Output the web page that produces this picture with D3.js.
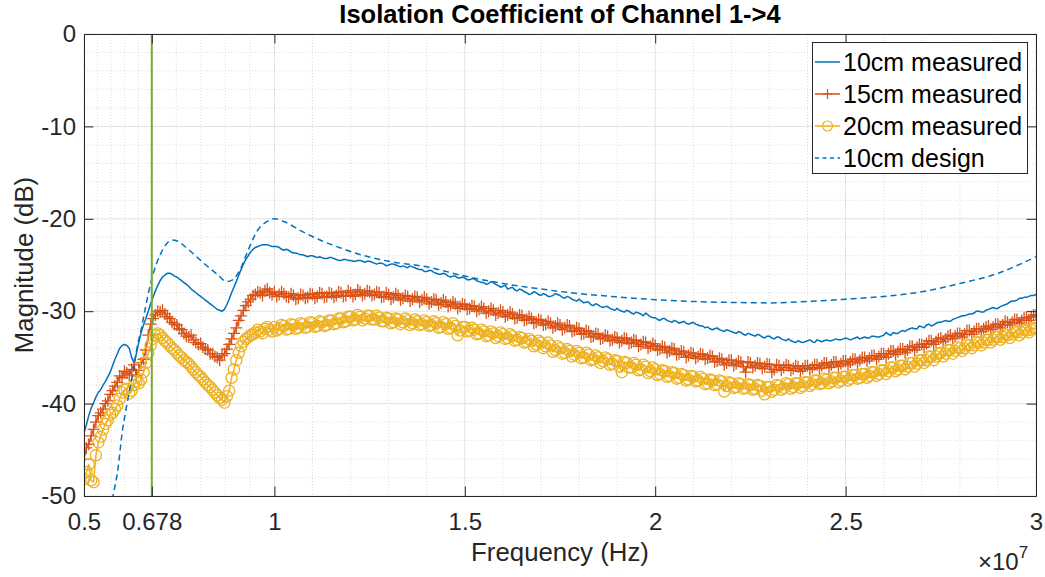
<!DOCTYPE html>
<html><head><meta charset="utf-8">
<script src="https://cdn.jsdelivr.net/npm/d3@7"></script>
<style>
body{margin:0;background:#fff;}
text{font-family:"Liberation Sans",Arial,Helvetica,sans-serif;}
</style>
</head><body>
<svg id="chart" width="1045" height="577"></svg>
<script>
// Frequency sweep (units of 1e7 Hz): 0.5 .. 3.0, 401 points
const sweepStart = 0.5, sweepStep = 0.00625, sweepCount = 401;

const measured10 = [
-43.2,-42.3,-41.3,-40.5,-39.9,-39.3,-38.8,-38.5,-38.0,-37.6,-37.1,-36.6,-35.9,-35.2,-34.6,-34.0,-33.7,-33.6,-33.7,-34.0,
-35.0,-35.6,-34.6,-33.4,-32.3,-31.5,-30.8,-30.0,-29.2,-28.5,-27.8,-27.2,-26.7,-26.3,-26.1,-25.9,-25.9,-26.0,-26.2,-26.3,
-26.5,-26.7,-26.9,-27.1,-27.3,-27.6,-27.8,-28.0,-28.2,-28.4,-28.6,-28.8,-29.0,-29.2,-29.4,-29.6,-29.8,-29.9,-30.0,-29.8,
-29.3,-28.7,-28.0,-27.4,-26.8,-26.1,-25.5,-24.9,-24.4,-24.0,-23.6,-23.3,-23.1,-23.0,-22.9,-22.8,-22.8,-22.8,-22.9,-23.0,
-23.0,-23.0,-23.1,-23.3,-23.4,-23.3,-23.4,-23.6,-23.7,-23.7,-23.8,-23.9,-23.9,-24.0,-24.1,-24.0,-24.0,-24.1,-24.2,-24.1,
-24.2,-24.3,-24.3,-24.2,-24.2,-24.3,-24.4,-24.5,-24.5,-24.4,-24.4,-24.5,-24.5,-24.6,-24.6,-24.5,-24.5,-24.6,-24.7,-24.6,
-24.6,-24.7,-24.8,-24.9,-24.8,-24.8,-24.9,-25.1,-25.0,-24.9,-24.9,-25.0,-25.1,-25.2,-25.1,-25.2,-25.3,-25.1,-25.2,-25.3,
-25.4,-25.5,-25.5,-25.7,-25.7,-25.6,-25.6,-25.8,-25.9,-26.0,-26.0,-25.9,-26.0,-26.2,-26.3,-26.2,-26.2,-26.4,-26.4,-26.3,
-26.4,-26.6,-26.6,-26.5,-26.5,-26.7,-26.8,-26.9,-26.9,-27.1,-27.0,-26.8,-26.9,-27.1,-27.2,-27.4,-27.3,-27.2,-27.6,-27.5,
-27.4,-27.7,-27.8,-27.6,-27.7,-27.9,-28.0,-28.2,-28.1,-27.9,-28.0,-28.2,-28.3,-28.1,-28.2,-28.4,-28.4,-28.3,-28.1,-28.2,
-28.3,-28.5,-28.6,-28.4,-28.5,-28.7,-28.8,-28.9,-28.7,-28.9,-29.1,-29.0,-29.0,-29.3,-29.4,-29.2,-29.3,-29.5,-29.6,-29.5,
-29.5,-29.7,-29.8,-29.9,-29.7,-29.9,-30.0,-30.1,-29.9,-30.0,-30.2,-30.3,-30.1,-30.2,-30.3,-30.5,-30.2,-30.4,-30.6,-30.7,
-30.7,-30.9,-31.0,-30.8,-30.8,-31.0,-31.1,-31.2,-31.0,-31.1,-31.3,-31.2,-31.1,-31.3,-31.4,-31.3,-31.2,-31.4,-31.5,-31.6,
-31.6,-31.8,-31.7,-31.9,-32.0,-31.9,-31.8,-32.0,-32.1,-32.2,-32.0,-32.1,-32.2,-32.3,-32.4,-32.2,-32.3,-32.5,-32.6,-32.4,
-32.5,-32.6,-32.7,-32.5,-32.6,-32.8,-32.9,-32.7,-32.7,-32.9,-33.0,-32.8,-32.8,-33.0,-33.1,-33.2,-33.0,-33.2,-33.3,-33.4,
-33.2,-33.3,-33.4,-33.3,-33.2,-33.1,-33.3,-33.4,-33.1,-33.2,-33.3,-33.2,-33.1,-33.2,-33.2,-33.1,-33.0,-33.1,-33.1,-33.0,
-32.9,-33.0,-33.1,-33.0,-32.9,-32.8,-33.0,-32.9,-32.8,-32.9,-32.9,-32.7,-32.7,-32.8,-32.8,-32.7,-32.6,-32.3,-32.5,-32.6,
-32.3,-32.4,-32.4,-32.2,-32.1,-32.2,-32.0,-31.9,-31.8,-31.9,-31.9,-31.6,-31.7,-31.8,-31.5,-31.4,-31.6,-31.5,-31.3,-31.2,
-31.2,-31.1,-31.0,-31.1,-31.1,-30.9,-30.8,-30.7,-30.6,-30.5,-30.5,-30.4,-30.3,-30.3,-30.2,-30.0,-30.0,-30.1,-30.1,-29.9,
-29.8,-29.7,-29.6,-29.7,-29.7,-29.5,-29.4,-29.3,-29.2,-29.0,-28.9,-28.9,-28.8,-28.6,-28.6,-28.5,-28.5,-28.4,-28.3,-28.3,
-28.2];

const measured15 = [
-46.0,-44.8,-44.4,-43.5,-42.8,-42.0,-41.3,-41.0,-40.6,-40.0,-39.7,-39.0,-38.6,-38.1,-37.7,-37.0,-37.2,-36.5,-36.7,-36.9,
-36.3,-35.8,-37.0,-36.4,-35.6,-35.2,-34.2,-32.6,-31.4,-30.8,-30.4,-30.0,-30.1,-29.9,-30.3,-30.6,-30.8,-31.2,-31.4,-31.5,
-31.9,-32.0,-32.4,-32.7,-32.8,-32.6,-33.1,-33.4,-33.6,-33.5,-33.9,-34.1,-34.2,-34.6,-34.6,-34.9,-35.0,-35.3,-34.8,-34.6,
-34.1,-33.6,-33.0,-32.4,-31.8,-31.0,-30.5,-29.9,-29.4,-29.0,-28.7,-28.3,-28.2,-27.9,-28.0,-28.3,-27.8,-27.6,-28.0,-28.2,
-27.9,-28.4,-28.2,-27.9,-28.1,-28.4,-28.5,-28.1,-28.3,-28.7,-28.6,-28.2,-28.3,-28.6,-28.5,-28.1,-28.2,-28.6,-28.4,-28.0,
-28.1,-28.5,-28.4,-28.0,-28.1,-28.5,-28.3,-27.9,-28.0,-28.4,-28.3,-27.8,-28.0,-28.4,-28.2,-27.7,-27.9,-28.3,-28.1,-27.8,
-27.9,-28.3,-28.2,-27.9,-28.0,-28.5,-28.4,-28.0,-28.2,-28.7,-28.5,-28.1,-28.3,-28.8,-28.6,-28.3,-28.4,-28.9,-28.7,-28.4,
-28.5,-29.0,-28.8,-28.5,-28.7,-29.2,-29.0,-28.7,-28.8,-29.3,-29.1,-28.8,-29.0,-29.5,-29.3,-29.0,-29.2,-29.7,-29.5,-29.2,
-29.3,-29.8,-29.7,-29.4,-29.5,-30.0,-29.8,-29.5,-29.7,-30.2,-30.0,-29.7,-29.9,-30.4,-30.2,-29.9,-30.1,-30.6,-30.4,-30.1,
-30.3,-30.8,-30.7,-30.4,-30.5,-31.0,-30.9,-30.6,-30.8,-31.3,-31.2,-30.9,-31.0,-31.5,-31.4,-31.1,-31.3,-31.8,-31.6,-31.3,
-31.5,-32.0,-31.8,-31.5,-31.6,-32.2,-32.1,-31.8,-31.9,-32.5,-32.4,-32.1,-32.2,-32.8,-32.7,-32.4,-32.5,-33.0,-32.9,-32.6,
-32.7,-33.2,-33.1,-32.8,-32.9,-33.4,-33.2,-32.9,-33.0,-33.5,-33.4,-33.1,-33.2,-33.8,-33.6,-33.3,-33.4,-34.0,-33.8,-33.5,
-33.7,-34.2,-34.1,-33.8,-33.9,-34.5,-34.3,-34.0,-34.1,-34.7,-34.6,-34.3,-34.4,-35.0,-34.8,-34.5,-34.6,-35.1,-34.9,-34.6,
-34.7,-35.2,-35.1,-34.8,-34.9,-35.5,-35.4,-35.1,-35.2,-35.8,-35.6,-35.3,-35.3,-35.9,-35.7,-35.4,-35.5,-36.0,-36.6,-35.5,
-35.6,-36.1,-35.9,-35.6,-35.7,-36.2,-36.0,-35.7,-35.8,-36.6,-36.3,-35.8,-35.9,-36.4,-36.1,-35.8,-35.9,-36.4,-36.2,-35.9,
-36.0,-36.5,-36.2,-35.9,-35.9,-36.3,-36.1,-35.8,-35.8,-36.2,-35.9,-35.6,-35.6,-36.1,-35.8,-35.5,-35.5,-36.0,-35.7,-35.4,
-35.4,-35.8,-35.5,-35.2,-35.2,-35.6,-35.3,-35.0,-35.0,-35.4,-35.1,-34.8,-34.8,-35.2,-34.9,-34.6,-34.6,-35.0,-34.6,-34.3,
-34.3,-34.7,-34.4,-34.1,-34.1,-34.5,-34.2,-33.8,-33.8,-34.2,-33.9,-33.6,-33.6,-33.9,-33.5,-33.2,-33.2,-33.6,-33.3,-33.0,
-32.9,-33.3,-33.0,-32.7,-32.6,-33.0,-32.7,-32.4,-32.4,-32.8,-32.5,-32.1,-32.1,-32.5,-32.2,-31.9,-31.9,-32.2,-31.9,-31.7,
-31.6,-32.0,-31.7,-31.4,-31.4,-31.8,-31.5,-31.1,-31.2,-31.5,-31.2,-30.9,-30.9,-31.3,-31.0,-30.7,-30.7,-31.0,-30.6,-30.4,
-30.4];

const measured20 = [
-48.2,-47.4,-46.6,-48.3,-48.5,-45.6,-44.2,-43.6,-42.8,-42.2,-41.8,-41.2,-41.0,-40.6,-40.2,-39.5,-38.8,-38.5,-38.4,-38.9,
-38.6,-38.0,-37.6,-37.8,-37.4,-36.6,-35.6,-34.5,-33.7,-33.0,-32.6,-32.4,-32.6,-32.9,-33.2,-33.4,-33.7,-34.0,-34.2,-34.5,
-34.8,-35.0,-35.3,-35.5,-35.7,-36.0,-36.3,-36.6,-36.9,-37.1,-37.4,-37.7,-38.0,-38.2,-38.5,-38.8,-39.1,-39.4,-39.6,-39.9,
-39.2,-38.6,-37.2,-36.3,-35.3,-34.5,-33.8,-33.3,-33.0,-32.8,-32.6,-32.5,-32.3,-32.0,-32.2,-32.4,-31.9,-31.7,-32.0,-32.2,
-31.7,-32.1,-31.9,-31.5,-31.6,-32.0,-31.9,-31.4,-31.5,-31.9,-31.8,-31.3,-31.4,-31.8,-31.7,-31.2,-31.3,-31.7,-31.6,-31.1,
-31.2,-31.6,-31.5,-31.0,-31.0,-31.4,-31.3,-30.8,-30.8,-31.2,-31.1,-30.6,-30.6,-31.0,-30.9,-30.4,-30.6,-31.0,-30.8,-30.5,
-30.5,-30.9,-30.9,-30.5,-30.7,-31.1,-31.1,-30.7,-30.8,-31.3,-31.2,-30.8,-30.9,-31.4,-31.2,-30.8,-31.0,-31.5,-31.3,-30.9,
-31.1,-31.5,-31.4,-31.0,-31.2,-31.6,-31.5,-31.1,-31.3,-31.8,-31.7,-31.2,-31.4,-31.9,-31.8,-31.3,-31.6,-32.6,-32.1,-31.7,
-31.7,-32.2,-32.1,-31.8,-32.0,-32.5,-32.4,-32.0,-32.2,-32.7,-32.6,-32.2,-32.4,-32.9,-32.7,-32.3,-32.5,-33.0,-32.9,-32.5,
-32.7,-33.2,-33.1,-32.8,-32.9,-33.4,-33.3,-33.0,-33.2,-33.8,-33.6,-33.2,-33.4,-34.0,-33.8,-33.4,-33.7,-34.4,-34.2,-33.8,
-34.0,-34.6,-34.5,-34.1,-34.3,-34.9,-34.7,-34.3,-34.5,-35.1,-35.0,-34.5,-34.7,-35.3,-35.2,-34.8,-35.0,-35.6,-35.4,-35.0,
-35.2,-35.8,-35.7,-35.3,-35.4,-36.0,-36.6,-35.5,-35.6,-36.1,-36.1,-35.6,-35.8,-36.4,-36.3,-35.8,-36.0,-36.7,-36.5,-36.1,
-36.3,-36.9,-36.8,-36.4,-36.5,-37.1,-37.0,-36.6,-36.7,-37.3,-37.2,-36.8,-36.9,-37.5,-37.4,-37.0,-37.1,-37.6,-37.5,-37.1,
-37.3,-37.9,-37.8,-37.4,-37.5,-38.0,-37.9,-37.5,-37.6,-38.7,-38.1,-37.7,-37.8,-38.3,-38.2,-37.8,-37.9,-38.4,-38.3,-37.9,
-38.0,-38.5,-38.4,-38.0,-38.1,-38.6,-39.0,-38.2,-38.2,-38.7,-38.5,-38.0,-38.1,-38.5,-38.3,-37.8,-37.9,-38.4,-38.2,-37.8,
-37.8,-38.3,-38.1,-37.7,-37.7,-38.1,-37.9,-37.5,-37.5,-37.9,-37.8,-37.3,-37.4,-37.8,-37.6,-37.2,-37.2,-37.7,-37.5,-37.1,
-37.1,-37.5,-37.3,-36.9,-36.9,-37.3,-37.2,-36.8,-36.8,-37.2,-37.0,-36.6,-36.6,-37.0,-36.8,-36.4,-36.4,-36.8,-36.5,-36.1,
-36.1,-36.5,-36.3,-35.9,-35.9,-36.3,-36.0,-35.6,-35.6,-36.0,-35.7,-35.3,-35.3,-35.6,-35.3,-34.9,-34.9,-35.3,-34.9,-34.6,
-34.5,-34.9,-34.6,-34.2,-34.2,-34.6,-34.3,-33.9,-34.0,-34.3,-34.0,-33.6,-33.7,-34.0,-33.7,-33.3,-33.4,-33.7,-33.4,-33.1,
-33.1,-33.4,-33.1,-32.8,-32.8,-33.1,-32.8,-32.5,-32.6,-32.9,-32.5,-32.2,-32.3,-32.6,-32.3,-32.0,-32.1,-32.3,-32.0,-31.8,
-31.9];

const designFreq = [0.56,0.576,0.59,0.60,0.61,0.62,0.63,0.64,0.65,0.66,0.675,0.69,0.70,0.715,0.73,0.745,0.765,0.79,0.82,0.85,0.875,0.89,0.91,0.93,0.955,0.98,1.0,1.025,1.07,1.12,1.17,1.22,1.3,1.4,1.5,1.6,1.7,1.8,1.9,2.0,2.1,2.2,2.3,2.4,2.5,2.6,2.7,2.8,2.9,3.0];
const design10 = [-52.5,-50.0,-46.8,-43.2,-40.7,-38.5,-36.3,-33.8,-32.0,-29.9,-27.0,-24.9,-23.9,-22.8,-22.3,-22.4,-23.0,-23.9,-25.0,-26.0,-26.8,-26.6,-25.5,-23.5,-21.3,-20.3,-20.0,-20.3,-21.3,-22.3,-23.1,-23.8,-24.6,-25.2,-26.2,-27.0,-27.6,-28.1,-28.45,-28.75,-28.95,-29.05,-29.1,-28.95,-28.7,-28.4,-27.9,-27.0,-25.9,-24.1];

const markerFreq = 0.678;
const xTicks = [0.5,0.678,1,1.5,2,2.5,3];
const xTickLabels = ["0.5","0.678","1","1.5","2","2.5","3"];
const yTicks = [0,-10,-20,-30,-40,-50];
const yTickLabels = ["0","-10","-20","-30","-40","-50"];
const seriesNames = ["10cm measured","15cm measured","20cm measured","10cm design"];
const titleText = "Isolation Coefficient of Channel 1->4";
const xLabel = "Frequency (Hz)";
const yLabel = "Magnitude (dB)";

// ---- layout ----
const L = 84, R = 1036, T = 34, B = 496;
const colors = ["#0072BD","#D95319","#EDB120","#0072BD"];
const green = "#77AC30";
const axisColor = "#262626";

const svg = d3.select("#chart");
const x = d3.scaleLinear().domain([0.5,3]).range([L,R]);
const y = d3.scaleLinear().domain([-50,0]).range([B,T]);

const freq = d3.range(sweepCount).map(i => sweepStart + i*sweepStep);

svg.append("defs").append("clipPath").attr("id","clip")
  .append("rect").attr("x",L).attr("y",T).attr("width",R-L).attr("height",B-T);

function minors(ticks){
  const out=[];
  const s=[...ticks].sort((a,b)=>a-b);
  for(let i=0;i<s.length-1;i++){
    for(let k=1;k<5;k++) out.push(s[i]+(s[i+1]-s[i])*k/5);
  }
  return out;
}
const grid = svg.append("g");
grid.selectAll(".mx").data(minors(xTicks)).join("line")
  .attr("x1",d=>x(d)).attr("x2",d=>x(d)).attr("y1",T).attr("y2",B)
  .attr("stroke","#d6d6d6").attr("stroke-width",0.8).attr("stroke-dasharray","1,2");
grid.selectAll(".my").data(minors(yTicks)).join("line")
  .attr("y1",d=>y(d)).attr("y2",d=>y(d)).attr("x1",L).attr("x2",R)
  .attr("stroke","#d6d6d6").attr("stroke-width",0.8).attr("stroke-dasharray","1,2");
grid.selectAll(".Mx").data(xTicks).join("line")
  .attr("x1",d=>x(d)).attr("x2",d=>x(d)).attr("y1",T).attr("y2",B)
  .attr("stroke","#e1e1e1").attr("stroke-width",1);
grid.selectAll(".My").data(yTicks).join("line")
  .attr("y1",d=>y(d)).attr("y2",d=>y(d)).attr("x1",L).attr("x2",R)
  .attr("stroke","#e1e1e1").attr("stroke-width",1);

// ---- data ----
const plot = svg.append("g").attr("clip-path","url(#clip)");
const line = d3.line().x(d=>x(d[0])).y(d=>y(d[1]));
const s10 = freq.map((f,i)=>[f,measured10[i]]);
const s15 = freq.map((f,i)=>[f,measured15[i]]);
const s20 = freq.map((f,i)=>[f,measured20[i]]);
const sD = designFreq.map((f,i)=>[f,design10[i]]);

plot.append("path").datum(s10).attr("d",line).attr("fill","none")
  .attr("stroke",colors[0]).attr("stroke-width",1.5).attr("stroke-linejoin","round");

plot.append("path").datum(s15).attr("d",line).attr("fill","none")
  .attr("stroke",colors[1]).attr("stroke-width",1.5).attr("stroke-linejoin","round");
plot.append("g").selectAll("path").data(s15).join("path")
  .attr("d",d=>`M${x(d[0])-6},${y(d[1])}h12M${x(d[0])},${y(d[1])-6}v12`)
  .attr("stroke",colors[1]).attr("stroke-width",1.3).attr("fill","none");

plot.append("path").datum(s20).attr("d",line).attr("fill","none")
  .attr("stroke",colors[2]).attr("stroke-width",1.5).attr("stroke-linejoin","round");
plot.append("g").selectAll("circle").data(s20).join("circle")
  .attr("cx",d=>x(d[0])).attr("cy",d=>y(d[1])).attr("r",5.6)
  .attr("stroke",colors[2]).attr("stroke-width",1.3).attr("fill","none");

plot.append("path").datum(sD).attr("d",d3.line().x(d=>x(d[0])).y(d=>y(d[1])).curve(d3.curveMonotoneX))
  .attr("fill","none").attr("stroke",colors[3]).attr("stroke-width",1.5).attr("stroke-dasharray","6,4");

plot.append("line").attr("x1",x(markerFreq)).attr("x2",x(markerFreq)).attr("y1",T).attr("y2",B)
  .attr("stroke",green).attr("stroke-width",2);

// ---- axes ----
const fontSize = 24;
const xb = svg.append("g").attr("transform",`translate(0,${B})`)
  .call(d3.axisBottom(x).tickValues(xTicks).tickFormat((d,i)=>xTickLabels[i]).tickSizeInner(-9.5).tickSizeOuter(0).tickPadding(17));
const xt = svg.append("g").attr("transform",`translate(0,${T})`)
  .call(d3.axisTop(x).tickValues(xTicks).tickFormat("").tickSizeInner(-9.5).tickSizeOuter(0));
const yl = svg.append("g").attr("transform",`translate(${L},0)`)
  .call(d3.axisLeft(y).tickValues(yTicks).tickFormat((d,i)=>yTickLabels[i]).tickSizeInner(-9.5).tickSizeOuter(0).tickPadding(8));
const yr = svg.append("g").attr("transform",`translate(${R},0)`)
  .call(d3.axisRight(y).tickValues(yTicks).tickFormat("").tickSizeInner(-9.5).tickSizeOuter(0));
[xb,xt,yl,yr].forEach(g=>{
  g.select(".domain").attr("stroke",axisColor).attr("stroke-width",1);
  g.selectAll(".tick line").attr("stroke",axisColor).attr("stroke-width",1);
  g.selectAll("text").attr("fill",axisColor).attr("font-size",fontSize)
   .attr("font-family","'Liberation Sans',Arial,sans-serif");
});

const ex = svg.append("text").attr("x",978).attr("y",570).attr("fill",axisColor).attr("font-size",fontSize);
ex.append("tspan").text("\u00d710");
ex.append("tspan").attr("dy",-12).attr("font-size",17).text("7");

svg.append("text").attr("x",(L+R)/2).attr("y",561).attr("text-anchor","middle")
  .attr("font-size",25.8).attr("fill",axisColor).text(xLabel);
svg.append("text").attr("transform",`translate(33,${(T+B)/2}) rotate(-90)`).attr("text-anchor","middle")
  .attr("font-size",25.8).attr("fill",axisColor).text(yLabel);
svg.append("text").attr("x",(L+R)/2).attr("y",23).attr("text-anchor","middle")
  .attr("font-size",25.5).attr("font-weight","bold").attr("fill","#000").text(titleText);

// ---- legend ----
const lg = svg.append("g");
lg.append("rect").attr("x",812.5).attr("y",42.5).attr("width",215).attr("height",131)
  .attr("fill","#fff").attr("stroke",axisColor).attr("stroke-width",1);
const rowY = [62,94,126,158];
seriesNames.forEach((name,i)=>{
  const cy = rowY[i];
  const g = lg.append("g");
  g.append("line").attr("x1",815).attr("x2",840).attr("y1",cy).attr("y2",cy)
    .attr("stroke",colors[i]).attr("stroke-width",1.5)
    .attr("stroke-dasharray", i===3 ? "4,3.5" : null);
  if(i===1) g.append("path").attr("d",`M822.5,${cy}h10M827.5,${cy-5}v10`).attr("stroke",colors[1]).attr("stroke-width",1.2);
  if(i===2) g.append("circle").attr("cx",827.5).attr("cy",cy).attr("r",5).attr("fill","none").attr("stroke",colors[2]).attr("stroke-width",1.2);
  g.append("text").attr("x",843).attr("y",cy).attr("dy","0.35em").attr("font-size",25)
    .attr("fill","#000").text(name);
});
</script>
</body></html>
